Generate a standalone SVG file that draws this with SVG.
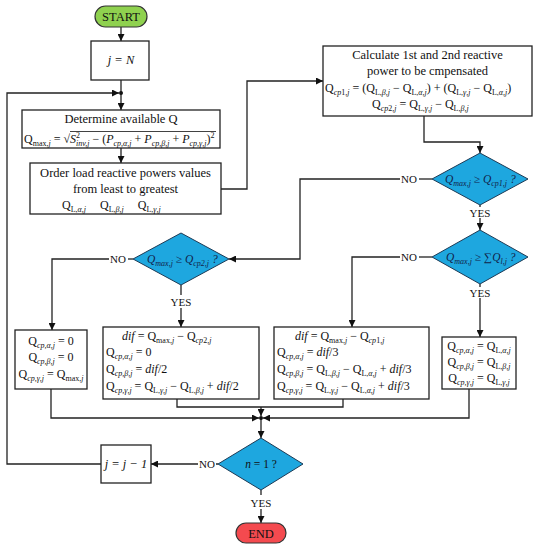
<svg xmlns="http://www.w3.org/2000/svg" width="535" height="550" viewBox="0 0 535 550" font-family="'Liberation Serif', 'DejaVu Serif', serif">
<defs>
<marker id="ah" viewBox="0 0 10 10" refX="10" refY="5" markerWidth="7" markerHeight="7" markerUnits="userSpaceOnUse" orient="auto">
<path d="M0,0 L10,5 L0,10 z" fill="#111"/>
</marker>
<style>
.box{fill:#fff;stroke:#222;stroke-width:1.3}
.dia{fill:#1ea7df;stroke:#1d3a55;stroke-width:1}
.ln{fill:none;stroke:#222;stroke-width:1.3}
.ar{fill:none;stroke:#222;stroke-width:1.3;marker-end:url(#ah)}
text{font-family:'Liberation Serif','DejaVu Serif',serif;fill:#111}
.t{font-size:12.5px}
.c{text-anchor:middle}
.f{font-size:12px}
.sb{font-size:8px}
.i{font-style:italic}
.d{font-size:11.5px;font-style:italic;fill:#12234a}
.lb{font-size:11px;text-anchor:middle}
</style>
</defs>

<g id="connectors">
<path class="ar" d="M121,27 V41"/>
<path class="ln" d="M121,80 V93"/>
<path class="ar" d="M121,93 V110"/>
<path class="ar" d="M121,148 V163"/>
<path class="ar" d="M221,189 H247 V81 H323"/>
<path class="ar" d="M424,116 V142 H480 V153"/>
<path class="ln" d="M432,179 H419"/>
<path class="ar" d="M400,179 H300 V259 H229"/>
<path class="ln" d="M480,205 V207"/>
<path class="ar" d="M480,218 V230"/>
<path class="ln" d="M432,257 H419"/>
<path class="ar" d="M400,257 H352 V327"/>
<path class="ln" d="M480,284 V287"/>
<path class="ar" d="M480,298 V337"/>
<path class="ln" d="M133,259 H128"/>
<path class="ar" d="M109,259 H52 V330"/>
<path class="ln" d="M181,285 V295"/>
<path class="ar" d="M181,308 V327"/>
<path class="ln" d="M177,399 V407 H343 V399"/>
<path class="ar" d="M261,407 V416"/>
<path class="ar" d="M51,389 V418 H259"/>
<path class="ar" d="M469,389 V418 H263"/>
<path class="ar" d="M261,418 V438"/>
<path class="ln" d="M218,464 H216"/>
<path class="ar" d="M198,464 H151"/>
<path class="ar" d="M101,464 H7 V93 H119"/>
<path class="ln" d="M261,490 V495"/>
<path class="ar" d="M261,509 V523"/>
<circle cx="121" cy="93" r="2" fill="#111"/>
<circle cx="261" cy="418" r="2" fill="#111"/>
<text class="lb" x="409" y="183">NO</text>
<text class="lb" x="480" y="217">YES</text>
<text class="lb" x="409" y="261">NO</text>
<text class="lb" x="480" y="297">YES</text>
<text class="lb" x="118" y="263">NO</text>
<text class="lb" x="181" y="306">YES</text>
<text class="lb" x="207" y="468">NO</text>
<text class="lb" x="261" y="507">YES</text>
</g>

<g id="start">
<rect x="95" y="6" width="52" height="21" rx="10.5" fill="#8fd14f" stroke="#333" stroke-width="1.2"/>
<text class="t c" x="121" y="21">START</text>
</g>

<g id="init">
<rect class="box" x="91" y="41" width="58" height="39"/>
<text class="t c i" x="121" y="64">j =  N</text>
</g>

<g id="determine">
<rect class="box" x="22" y="110" width="198" height="38"/>
<text class="t c" x="121" y="123">Determine available Q</text>
<line x1="70" y1="131.5" x2="216" y2="131.5" stroke="#111" stroke-width="0.8"/>
<text class="f" x="24" y="143">Q<tspan class="sb" dy="2.5">max,<tspan class="i">j</tspan></tspan><tspan dy="-2.5"> = √</tspan><tspan class="i">S</tspan><tspan class="sb" dy="-5">2</tspan><tspan class="sb i" dx="-4" dy="7.5">inv,j</tspan><tspan dy="-2.5"> − (</tspan><tspan class="i">P</tspan><tspan class="sb i" dy="2.5">cp,α,j</tspan><tspan dy="-2.5"> + </tspan><tspan class="i">P</tspan><tspan class="sb i" dy="2.5">cp,β,j</tspan><tspan dy="-2.5"> + </tspan><tspan class="i">P</tspan><tspan class="sb i" dy="2.5">cp,γ,j</tspan><tspan dy="-2.5">)</tspan><tspan class="sb" dy="-5">2</tspan></text>
</g>

<g id="order">
<rect class="box" x="30" y="163" width="191" height="51"/>
<text class="t c" x="125.5" y="177">Order load reactive powers values</text>
<text class="t c" x="125.5" y="193">from least to greatest</text>
<text class="f" x="62" y="209">Q<tspan class="sb" dy="2.5">L,<tspan class="i">α,j</tspan></tspan><tspan dy="-2.5" dx="14">Q</tspan><tspan class="sb" dy="2.5">L,<tspan class="i">β,j</tspan></tspan><tspan dy="-2.5" dx="14">Q</tspan><tspan class="sb" dy="2.5">L,<tspan class="i">γ,j</tspan></tspan></text>
</g>

<g id="calculate">
<rect class="box" x="323" y="46" width="209" height="70"/>
<text class="t c" x="427.5" y="59">Calculate 1st and 2nd reactive</text>
<text class="t c" x="427.5" y="75">power to be cmpensated</text>
<text class="f" x="325" y="92">Q<tspan class="sb i" dy="2.5">cp<tspan font-style="normal">1</tspan>,j</tspan><tspan dy="-2.5"> = (Q</tspan><tspan class="sb" dy="2.5">L,<tspan class="i">β,j</tspan></tspan><tspan dy="-2.5"> − Q</tspan><tspan class="sb" dy="2.5">L,<tspan class="i">α,j</tspan></tspan><tspan dy="-2.5">) + (Q</tspan><tspan class="sb" dy="2.5">L,<tspan class="i">γ,j</tspan></tspan><tspan dy="-2.5"> − Q</tspan><tspan class="sb" dy="2.5">L,<tspan class="i">α,j</tspan></tspan><tspan dy="-2.5">)</tspan></text>
<text class="f" x="372" y="108">Q<tspan class="sb i" dy="2.5">cp<tspan font-style="normal">2</tspan>,j</tspan><tspan dy="-2.5"> = Q</tspan><tspan class="sb" dy="2.5">L,<tspan class="i">γ,j</tspan></tspan><tspan dy="-2.5"> − Q</tspan><tspan class="sb" dy="2.5">L,<tspan class="i">β,j</tspan></tspan></text>
</g>

<g id="decision1">
<polygon class="dia" points="480,153 528,179 480,205 432,179"/>
<text class="d" x="445" y="183">Q<tspan class="sb" dy="2.5">max,j</tspan><tspan dy="-2.5"> ≥  Q</tspan><tspan class="sb" dy="2.5">cp1,j</tspan><tspan dy="-2.5">  ?</tspan></text>
</g>

<g id="decision3">
<polygon class="dia" points="480,230 528,257 480,284 432,257"/>
<text class="d" x="446" y="261">Q<tspan class="sb" dy="2.5">max,j</tspan><tspan dy="-2.5"> ≥  ∑Q</tspan><tspan class="sb" dy="2.5">l,j</tspan><tspan dy="-2.5"> ?</tspan></text>
</g>

<g id="decision2">
<polygon class="dia" points="181,233 229,259 181,285 133,259"/>
<text class="d" x="147" y="263">Q<tspan class="sb" dy="2.5">max,j</tspan><tspan dy="-2.5"> ≥ Q</tspan><tspan class="sb" dy="2.5">cp2,j</tspan><tspan dy="-2.5">  ?</tspan></text>
</g>

<g id="box-none">
<rect class="box" x="15" y="330" width="72" height="59"/>
<text class="f c" x="51" y="345">Q<tspan class="sb i" dy="2.5">cp,α,j</tspan><tspan dy="-2.5"> = 0</tspan></text>
<text class="f c" x="51" y="361">Q<tspan class="sb i" dy="2.5">cp,β,j</tspan><tspan dy="-2.5"> = 0</tspan></text>
<text class="f c" x="51" y="378">Q<tspan class="sb i" dy="2.5">cp,γ,j</tspan><tspan dy="-2.5"> = Q</tspan><tspan class="sb" dy="2.5">max,<tspan class="i">j</tspan></tspan></text>
</g>

<g id="box-half">
<rect class="box" x="103" y="327" width="156" height="72"/>
<text class="f" x="122" y="340"><tspan class="i">dif</tspan> = Q<tspan class="sb" dy="2.5">max,<tspan class="i">j</tspan></tspan><tspan dy="-2.5"> − Q</tspan><tspan class="sb i" dy="2.5">cp<tspan font-style="normal">2</tspan>,j</tspan></text>
<text class="f" x="106" y="356">Q<tspan class="sb i" dy="2.5">cp,α,j</tspan><tspan dy="-2.5"> = 0</tspan></text>
<text class="f" x="106" y="373">Q<tspan class="sb i" dy="2.5">cp,β,j</tspan><tspan dy="-2.5"> = </tspan><tspan class="i">dif</tspan>/2</text>
<text class="f" x="106" y="390">Q<tspan class="sb i" dy="2.5">cp,γ,j</tspan><tspan dy="-2.5"> = Q</tspan><tspan class="sb" dy="2.5">L,<tspan class="i">γ,j</tspan></tspan><tspan dy="-2.5"> − Q</tspan><tspan class="sb" dy="2.5">L,<tspan class="i">β,j</tspan></tspan><tspan dy="-2.5"> + </tspan><tspan class="i">dif</tspan>/2</text>
</g>

<g id="box-third">
<rect class="box" x="274" y="327" width="155" height="72"/>
<text class="f" x="295" y="340"><tspan class="i">dif</tspan> = Q<tspan class="sb" dy="2.5">max,<tspan class="i">j</tspan></tspan><tspan dy="-2.5"> − Q</tspan><tspan class="sb i" dy="2.5">cp<tspan font-style="normal">1</tspan>,j</tspan></text>
<text class="f" x="277" y="356">Q<tspan class="sb i" dy="2.5">cp,α,j</tspan><tspan dy="-2.5"> = </tspan><tspan class="i">dif</tspan>/3</text>
<text class="f" x="277" y="373">Q<tspan class="sb i" dy="2.5">cp,β,j</tspan><tspan dy="-2.5"> = Q</tspan><tspan class="sb" dy="2.5">L,<tspan class="i">β,j</tspan></tspan><tspan dy="-2.5"> − Q</tspan><tspan class="sb" dy="2.5">L,<tspan class="i">α,j</tspan></tspan><tspan dy="-2.5"> + </tspan><tspan class="i">dif</tspan>/3</text>
<text class="f" x="277" y="390">Q<tspan class="sb i" dy="2.5">cp,γ,j</tspan><tspan dy="-2.5"> = Q</tspan><tspan class="sb" dy="2.5">L,<tspan class="i">γ,j</tspan></tspan><tspan dy="-2.5"> − Q</tspan><tspan class="sb" dy="2.5">L,<tspan class="i">α,j</tspan></tspan><tspan dy="-2.5"> + </tspan><tspan class="i">dif</tspan>/3</text>
</g>

<g id="box-full">
<rect class="box" x="442" y="337" width="74" height="52"/>
<text class="f c" x="479" y="350">Q<tspan class="sb i" dy="2.5">cp,α,j</tspan><tspan dy="-2.5"> = Q</tspan><tspan class="sb" dy="2.5">L,<tspan class="i">α,j</tspan></tspan></text>
<text class="f c" x="479" y="366">Q<tspan class="sb i" dy="2.5">cp,β,j</tspan><tspan dy="-2.5"> = Q</tspan><tspan class="sb" dy="2.5">L,<tspan class="i">β,j</tspan></tspan></text>
<text class="f c" x="479" y="382">Q<tspan class="sb i" dy="2.5">cp,γ,j</tspan><tspan dy="-2.5"> = Q</tspan><tspan class="sb" dy="2.5">L,<tspan class="i">γ,j</tspan></tspan></text>
</g>

<g id="decision4">
<polygon class="dia" points="261,438 303,464 261,490 218,464"/>
<text class="c" x="261" y="468" font-size="11.5px" fill="#12234a"><tspan class="i">n</tspan> = 1 ?</text>
</g>

<g id="decrement">
<rect class="box" x="101" y="445" width="50" height="38"/>
<text class="t c i" x="126" y="468">j = j − 1</text>
</g>

<g id="end">
<rect x="236" y="523" width="50" height="20" rx="10" fill="#f44a4f" stroke="#333" stroke-width="1.2"/>
<text class="t c" x="261" y="538">END</text>
</g>
</svg>
